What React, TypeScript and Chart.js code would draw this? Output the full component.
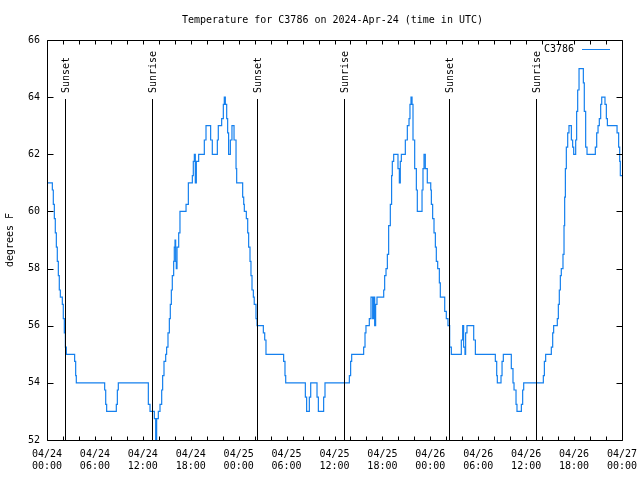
import React, { useEffect, useRef } from 'react';
import { Chart, registerables } from 'chart.js';

Chart.register(...registerables);

const chartTitle = 'Temperature for C3786 on 2024-Apr-24 (time in UTC)';
const seriesName = 'C3786';
const yAxisTitle = 'degrees F';

// hours since 2024-04-24 00:00 UTC
const hours = [
  0.0, 0.67, 0.79, 0.92, 1.04, 1.17, 1.29, 1.42, 1.54, 1.67, 1.92, 2.04, 2.17, 2.3, 2.42,
  3.46, 3.59, 3.67, 7.22, 7.35, 7.47, 8.68, 8.81, 8.93, 12.69, 12.9, 13.44, 13.61, 13.73,
  13.94, 14.15, 14.36, 14.48, 14.65, 14.86, 14.98, 15.15, 15.32, 15.44, 15.57, 15.69, 15.86,
  15.94, 16.03, 16.11, 16.19, 16.28, 16.49, 16.65, 17.41, 17.7, 18.2, 18.32, 18.45, 18.57,
  18.7, 18.99, 19.7, 19.91, 20.49, 20.7, 21.33, 21.45, 21.87, 22.08, 22.2, 22.33, 22.5,
  22.62, 22.74, 22.96, 23.16, 23.42, 23.67, 23.75, 24.5, 24.63, 24.71, 24.96, 25.13, 25.25,
  25.42, 25.54, 25.67, 25.84, 25.95, 26.17, 26.3, 27.09, 27.26, 27.42, 29.63, 29.8, 29.89,
  32.35, 32.51, 32.85, 33.02, 33.81, 33.98, 34.64, 34.81, 37.86, 38.02, 38.15, 39.65, 39.82,
  39.94, 40.36, 40.57, 40.78, 40.9, 41.03, 41.15, 41.32, 42.16, 42.28, 42.45, 42.62, 42.78,
  42.99, 43.15, 43.24, 43.41, 43.95, 44.12, 44.24, 44.37, 44.87, 45.12, 45.33, 45.45, 45.58,
  45.71, 45.83, 46.04, 46.25, 46.37, 46.96, 47.08, 47.21, 47.37, 47.62, 48.05, 48.13, 48.29,
  48.46, 48.63, 48.75, 48.92, 49.13, 49.25, 49.8, 50.0, 50.21, 50.42, 50.63, 51.88, 52.05,
  52.17, 52.34, 52.42, 52.59, 53.43, 53.64, 56.14, 56.31, 56.39, 56.85, 56.98, 57.14, 58.14,
  58.35, 58.48, 58.73, 58.85, 59.4, 59.56, 59.69, 62.15, 62.28, 62.44, 63.15, 63.32, 63.44,
  63.9, 64.03, 64.15, 64.28, 64.4, 64.61, 64.74, 64.82, 64.91, 65.03, 65.2, 65.36, 65.66,
  65.82, 65.95, 66.2, 66.32, 66.45, 66.62, 67.16, 67.28, 67.45, 67.62, 68.66, 68.83, 69.0,
  69.16, 69.33, 69.46, 69.87, 70.04, 70.17, 71.38, 71.58, 71.71, 71.79, 72.0,
];

const tempsF = [
  61.0, 60.75, 60.25, 59.75, 59.25, 58.75, 58.25, 57.75, 57.25, 57.0, 56.75, 56.25, 55.75, 55.25, 55.0,
  54.75, 54.25, 54.0, 53.75, 53.25, 53.0, 53.25, 53.75, 54.0, 53.25, 53.0, 52.75, 52.0, 52.75,
  53.0, 53.25, 53.75, 54.25, 54.75, 55.0, 55.25, 55.75, 56.25, 56.75, 57.25, 57.75, 58.25,
  58.75, 59.0, 58.25, 58.0, 58.75, 59.25, 60.0, 60.25, 61.0, 61.25, 61.75, 62.0, 61.0,
  61.75, 62.0, 62.5, 63.0, 62.5, 62.0, 62.5, 63.0, 63.25, 63.75, 64.0, 63.75, 63.25,
  62.75, 62.0, 62.5, 63.0, 62.5, 61.5, 61.0, 60.5, 60.25, 60.0, 59.75, 59.25, 58.75,
  58.25, 57.75, 57.25, 57.0, 56.75, 56.25, 56.0, 55.75, 55.5, 55.0, 54.75, 54.25, 54.0,
  53.5, 53.0, 53.5, 54.0, 53.5, 53.0, 53.5, 54.0, 54.25, 54.75, 55.0, 55.25, 55.75,
  56.0, 56.25, 57.0, 56.25, 57.0, 56.0, 56.75, 57.0, 57.25, 57.75, 58.0, 58.5, 59.5,
  60.25, 61.25, 61.75, 62.0, 61.5, 61.0, 61.75, 62.0, 62.5, 63.0, 63.25, 63.75, 64.0,
  63.75, 62.5, 61.5, 60.75, 60.0, 60.75, 61.5, 62.0, 61.5, 61.0, 60.75, 60.25, 59.75,
  59.25, 58.75, 58.25, 58.0, 57.5, 57.0, 56.5, 56.25, 56.0, 55.25, 55.0, 55.5, 56.0,
  55.25, 55.0, 55.75, 56.0, 55.5, 55.0, 54.75, 54.25, 54.0, 54.25, 54.75, 55.0, 54.5,
  54.0, 53.75, 53.25, 53.0, 53.25, 53.75, 54.0, 54.25, 54.75, 55.0, 55.25, 55.75, 56.0,
  56.25, 56.75, 57.25, 57.75, 58.0, 58.5, 59.5, 60.5, 61.5, 62.25, 62.75, 63.0, 62.5,
  62.25, 62.0, 62.5, 63.5, 64.25, 65.0, 64.5, 63.5, 62.25, 62.0, 62.25, 62.75, 63.0,
  63.25, 63.75, 64.0, 63.75, 63.25, 63.0, 62.75, 62.25, 61.75, 61.25, 61.25,
];

const xTickDates = ['04/24', '04/24', '04/24', '04/24', '04/25', '04/25', '04/25', '04/25', '04/26', '04/26', '04/26', '04/26', '04/27'];
const xTickTimes = ['00:00', '06:00', '12:00', '18:00', '00:00', '06:00', '12:00', '18:00', '00:00', '06:00', '12:00', '18:00', '00:00'];

const sunEventHours = [2.3, 13.19, 26.34, 37.15, 50.38, 61.19];
const sunEventLabels = ['Sunset', 'Sunrise', 'Sunset', 'Sunrise', 'Sunset', 'Sunrise'];
const sunLineTopF = 63.95;

const FONT = '"DejaVu Sans Mono", "Liberation Mono", monospace';
const LINE_COLOR = '#1580ee';

const decorPlugin = {
  id: 'decor',
  afterDraw(chart: any) {
    const { ctx, chartArea: ca, scales } = chart;
    const xs = scales.x;
    const ys = scales.y;
    ctx.save();
    ctx.strokeStyle = '#000';
    ctx.fillStyle = '#000';
    ctx.lineWidth = 1;
    const L = Math.round(ca.left) + 0.5;
    const R = Math.round(ca.right) + 0.5;
    const T = Math.round(ca.top) + 0.5;
    const B = Math.round(ca.bottom) + 0.5;
    ctx.beginPath();
    ctx.rect(L, T, R - L, B - T);
    xs.ticks.forEach((t: any) => {
      const px = Math.round(xs.getPixelForValue(t.value)) + 0.5;
      ctx.moveTo(px, B);
      ctx.lineTo(px, B - 4);
      ctx.moveTo(px, T);
      ctx.lineTo(px, T + 4);
    });
    ys.ticks.forEach((t: any) => {
      const py = Math.round(ys.getPixelForValue(t.value)) + 0.5;
      ctx.moveTo(L, py);
      ctx.lineTo(L + 6, py);
      ctx.moveTo(R, py);
      ctx.lineTo(R - 6, py);
    });
    ctx.stroke();

    ctx.font = '10px ' + FONT;
    sunEventHours.forEach((h, i) => {
      const px = Math.round(xs.getPixelForValue(h)) + 0.5;
      const yTop = Math.round(ys.getPixelForValue(sunLineTopF));
      ctx.beginPath();
      ctx.moveTo(px, B);
      ctx.lineTo(px, yTop);
      ctx.stroke();
      ctx.save();
      ctx.translate(px + 1, yTop - 6);
      ctx.rotate(-Math.PI / 2);
      ctx.textAlign = 'left';
      ctx.textBaseline = 'middle';
      ctx.fillText(sunEventLabels[i], 0, 0);
      ctx.restore();
    });

    // title
    ctx.textAlign = 'center';
    ctx.textBaseline = 'middle';
    ctx.fillText(chartTitle, (ca.left + ca.right) / 2 - 2, ca.top / 2);

    // legend
    const ly = Math.round(ca.top + 9) + 0.5;
    ctx.textAlign = 'right';
    ctx.fillText(seriesName, ca.right - 48, ly);
    ctx.strokeStyle = LINE_COLOR;
    ctx.beginPath();
    ctx.moveTo(ca.right - 40, ly);
    ctx.lineTo(ca.right - 12, ly);
    ctx.stroke();
    ctx.restore();
  },
};

export default function App() {
  const ref = useRef<HTMLCanvasElement | null>(null);
  useEffect(() => {
    if (!ref.current) return;
    const chart = new Chart(ref.current, {
      type: 'line',
      data: {
        datasets: [
          {
            label: seriesName,
            data: hours.map((h, i) => ({ x: h, y: tempsF[i] })),
            borderColor: LINE_COLOR,
            borderWidth: 1.2,
            pointRadius: 0,
            stepped: 'before',
            fill: false,
          },
        ],
      },
      options: {
        animation: false,
        responsive: false,
        layout: { padding: { top: 40, right: 18, left: 0, bottom: 0 } },
        plugins: {
          legend: { display: false },
          title: { display: false },
          tooltip: { enabled: false },
        },
        scales: {
          x: {
            type: 'linear',
            min: 0,
            max: 72,
            afterFit: (s: any) => {
              s.height = 40;
              s.paddingLeft = 0;
              s.paddingRight = 0;
            },
            border: { display: false },
            grid: { display: false, drawTicks: false },
            ticks: {
              stepSize: 2,
              autoSkip: false,
              maxRotation: 0,
              minRotation: 0,
              padding: 8,
              color: '#000',
              font: { family: FONT, size: 10 },
              callback: (value: any) => {
                const v = Number(value);
                if (v % 6 !== 0) return '';
                const i = v / 6;
                return [xTickDates[i], xTickTimes[i]];
              },
            },
          },
          y: {
            min: 52,
            max: 66,
            afterFit: (s: any) => {
              s.width = 47;
              s.paddingTop = 0;
              s.paddingBottom = 0;
            },
            border: { display: false },
            grid: { display: false, drawTicks: false },
            title: {
              display: true,
              text: yAxisTitle,
              color: '#000',
              font: { family: FONT, size: 10 },
              padding: { top: 4, bottom: 0 },
            },
            ticks: {
              stepSize: 2,
              padding: 7,
              color: '#000',
              font: { family: FONT, size: 10 },
            },
          },
        },
      },
      plugins: [decorPlugin],
    });
    return () => chart.destroy();
  }, []);
  return (
    <div style={{ position: 'fixed', left: 0, top: 0, width: 640, height: 480, background: '#fff' }}>
      <canvas ref={ref} width={640} height={480} style={{ display: 'block' }} />
    </div>
  );
}
